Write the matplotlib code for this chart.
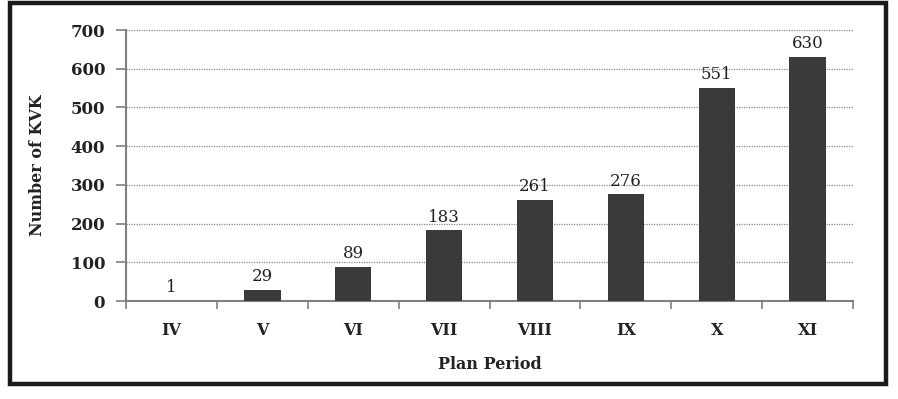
import matplotlib
matplotlib.use("Agg")
import matplotlib.pyplot as plt
from matplotlib.patches import Rectangle

categories = ["IV", "V", "VI", "VII", "VIII", "IX", "X", "XI"]
values = [1, 29, 89, 183, 261, 276, 551, 630]
yticks = [0, 100, 200, 300, 400, 500, 600, 700]

plt.rcParams['font.family'] = ['DejaVu Serif']

fig = plt.figure(figsize=(8.98, 3.99), dpi=100)
ax = fig.add_axes([0.1403, 0.2456, 0.8097, 0.6792])

x = list(range(len(categories)))
ax.bar(x, values, width=0.4, color="#3a3a3a", zorder=3)
for xi, v in zip(x, values):
    ax.text(xi, v + 12, str(v), ha="center", va="bottom", fontsize=12, color="#222222")

ax.set_xlim(-0.5, len(categories) - 0.5)
ax.set_ylim(0, 700)
ax.set_yticks(yticks)
ax.set_yticklabels([str(t) for t in yticks], fontsize=12, fontweight="bold", color="#222222")
ax.set_xticks(x)
ax.set_xticklabels(categories, fontsize=11.5, fontweight="bold", color="#222222")
ax.tick_params(axis="x", length=0, pad=15)
ax.set_xticks([i - 0.5 for i in range(len(categories) + 1)], minor=True)
ax.tick_params(axis="x", which="minor", length=6, width=1.2, color="#808080", direction="out")
ax.tick_params(axis="y", length=7, width=1.2, color="#808080", direction="out", pad=8)

ax.grid(axis="y", linestyle=(0, (1, 1)), color="#888888", linewidth=0.9, zorder=0)
for s in ["top", "right"]:
    ax.spines[s].set_visible(False)
for s in ["left", "bottom"]:
    ax.spines[s].set_color("#808080")
    ax.spines[s].set_linewidth(1.5)

ax.set_ylabel("Number of KVK", fontsize=11.5, fontweight="bold", labelpad=18, color="#222222")
ax.set_xlabel("Plan Period", fontsize=11.5, fontweight="bold", labelpad=12, color="#222222")

fig.patches.append(Rectangle((10 / 898, 1 - 384 / 399), 876 / 898, 381 / 399,
                             transform=fig.transFigure, fill=False,
                             edgecolor="#1a1a1a", linewidth=3.2))

fig.savefig("out.png", dpi=100)
